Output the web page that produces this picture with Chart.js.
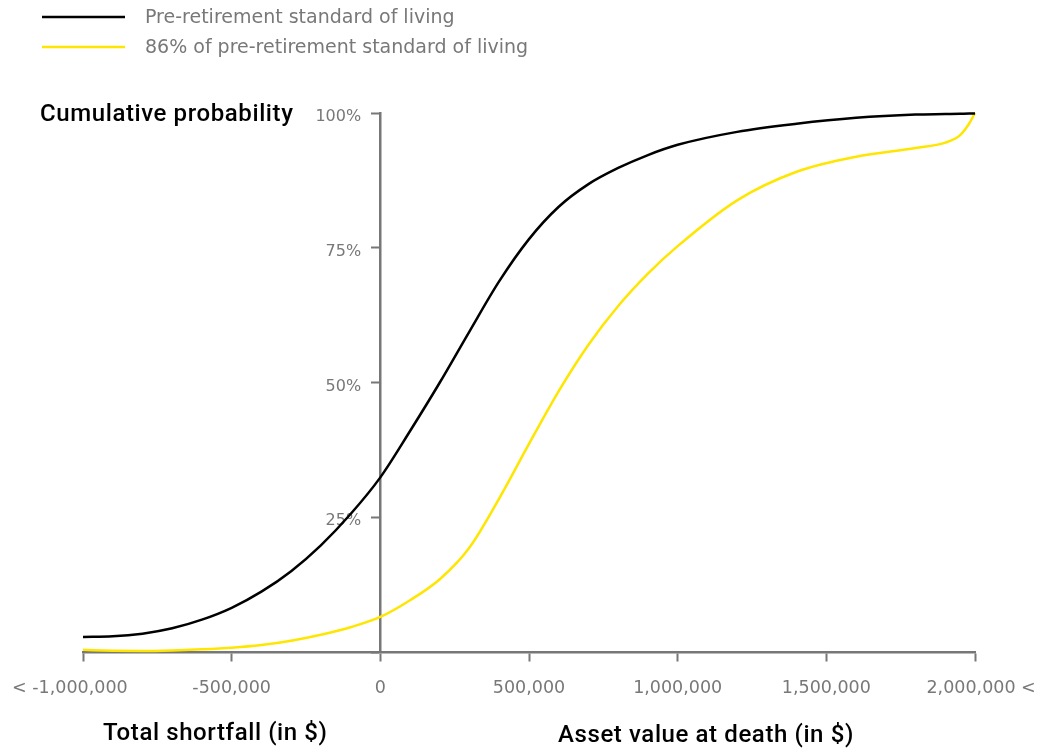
<!DOCTYPE html>
<html>
<head>
<meta charset="utf-8">
<script src="https://cdn.jsdelivr.net/npm/chart.js@4.4.1/dist/chart.umd.min.js"></script>
<style>
  html, body { margin: 0; padding: 0; background: #fff; }
  #wrap { position: relative; width: 1046px; height: 752px; }
</style>
</head>
<body>
<div id="wrap"><canvas id="cdf"></canvas></div>
<script>
// asset value at death / shortfall (in $)
const xValues = [-1000000, -900000, -800000, -700000, -600000, -500000, -400000, -300000, -200000, -100000,
    0, 100000, 200000, 300000, 400000, 500000, 600000, 700000, 800000, 900000,
    1000000, 1200000, 1400000, 1600000, 1800000, 1900000, 1950000, 1980000, 2000000];

// cumulative probability (%)
const fullLiving = [2.8, 2.9, 3.4, 4.4, 6.0, 8.2, 11.2, 15.0, 19.8, 25.6,
    32.4, 41.0, 50.0, 59.5, 68.8, 76.6, 82.6, 86.8, 89.8, 92.2,
    94.1, 96.5, 98.0, 99.1, 99.7, 99.8, 99.85, 99.9, 99.9];
const reducedLiving = [0.4, 0.25, 0.2, 0.3, 0.5, 0.8, 1.3, 2.1, 3.2, 4.6,
    6.5, 9.6, 13.5, 19.4, 28.5, 38.6, 48.4, 57.0, 64.2, 70.2,
    75.3, 83.8, 89.1, 91.9, 93.5, 94.5, 95.9, 98.0, 100];

const seriesNames = ['Pre-retirement standard of living', '86% of pre-retirement standard of living'];
// spaces keep the "<" markers hanging outside the tick centre, as in the original
const xTickLabels = ['< -1,000,000\u2002\u2002\u2002', '-500,000', '0', '500,000', '1,000,000', '1,500,000', '\u2002\u20092,000,000 <'];
const yTickLabels = ['', '25%', '50%', '75%', '100%'];

const axisGrey = '#777777';
const textGrey = '#787878';
const eyYellow = '#ffe600';

const toPoints = (ys) => xValues.map((x, i) => ({ x: x, y: ys[i] }));

// legend + free-standing axis titles
const annotations = {
    id: 'annotations',
    afterDraw(chart) {
        const ctx = chart.ctx;
        ctx.save();
        chart.data.datasets.forEach((ds, i) => {
            const y = 17 + i * 30;
            ctx.strokeStyle = ds.borderColor;
            ctx.lineWidth = 2.5;
            ctx.beginPath();
            ctx.moveTo(42, y);
            ctx.lineTo(125, y);
            ctx.stroke();
            ctx.fillStyle = textGrey;
            ctx.font = '19px "DejaVu Sans"';
            ctx.textBaseline = 'middle';
            ctx.fillText(ds.label, 145, y + 1);
        });
        ctx.fillStyle = '#000';
        ctx.font = '500 24px Roboto';
        ctx.letterSpacing = '0.6px';
        ctx.textBaseline = 'middle';
        ctx.fillText('Cumulative probability', 40, 115);
        ctx.fillText('Total shortfall (in $)', 103, 734);
        ctx.fillText('Asset value at death (in $)', 558, 736);
        ctx.restore();
    }
};

new Chart('cdf', {
    type: 'line',
    data: {
        datasets: [{
            label: seriesNames[0],
            data: toPoints(fullLiving),
            borderColor: '#000000',
            borderWidth: 2.5,
            pointRadius: 0,
            cubicInterpolationMode: 'monotone',
            clip: 6
        }, {
            label: seriesNames[1],
            data: toPoints(reducedLiving),
            borderColor: eyYellow,
            borderWidth: 2.5,
            pointRadius: 0,
            cubicInterpolationMode: 'monotone',
            clip: 6
        }]
    },
    options: {
        responsive: true,
        maintainAspectRatio: false,
        animation: false,
        layout: { padding: { left: 83, right: 71, top: 113, bottom: 100 } },
        plugins: {
            legend: { display: false },
            tooltip: { enabled: false }
        },
        scales: {
            x: {
                type: 'linear',
                min: -1000000,
                max: 2000000,
                position: { y: 0 },
                border: { color: axisGrey, width: 2.5 },
                grid: { drawOnChartArea: false, color: axisGrey, tickLength: 8, tickWidth: 2 },
                ticks: {
                    stepSize: 500000,
                    padding: 0,
                    color: textGrey,
                    // tall line box pushes the labels down without widening the side padding
                    font: { family: 'DejaVu Sans', size: 17.5, lineHeight: 3.3 },
                    maxRotation: 0,
                    autoSkip: false,
                    callback: (v, i) => xTickLabels[i]
                }
            },
            y: {
                min: 0,
                max: 100,
                z: 1,
                position: { x: 0 },
                border: { color: axisGrey, width: 2.5 },
                grid: { drawOnChartArea: false, color: axisGrey, tickLength: 8, tickWidth: 2 },
                ticks: {
                    stepSize: 25,
                    color: textGrey,
                    labelOffset: 4,
                    font: { family: 'DejaVu Sans', size: 16 },
                    showLabelBackdrop: (c) => c.tick && c.tick.value > 0,
                    backdropColor: '#ffffff',
                    backdropPadding: { top: 6, bottom: 6, left: 4, right: -19 },
                    // axis placed at x = 0 ignores tick padding, so pad with spaces
                    callback: (v, i) => yTickLabels[i] ? yTickLabels[i] + '\u2002\u2002\u2009' : ''
                }
            }
        }
    },
    plugins: [annotations]
});
</script>
</body>
</html>
